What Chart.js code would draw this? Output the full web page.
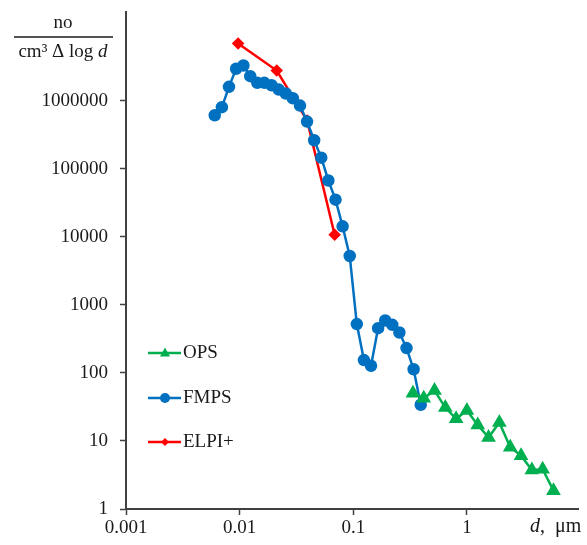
<!DOCTYPE html>
<html>
<head>
<meta charset="utf-8">
<script src="https://cdn.jsdelivr.net/npm/chart.js@4.4.0/dist/chart.umd.min.js"></script>
<style>
  html, body { margin: 0; padding: 0; background: #fff; }
  #wrap { width: 587px; height: 545px; }
</style>
</head>
<body>
<div id="wrap"><canvas id="chart" width="587" height="545"></canvas></div>
<script>
'use strict';

// particle diameter, um
const fmpsD = [0.00604, 0.00698, 0.00806, 0.00931, 0.0108, 0.0124, 0.0143, 0.0165, 0.0191, 0.0221,
  0.0255, 0.0294, 0.034, 0.0392, 0.0453, 0.0523, 0.0604, 0.0698, 0.0806, 0.0931,
  0.1075, 0.1241, 0.1433, 0.1655, 0.1911, 0.2207, 0.2548, 0.2943, 0.3398, 0.3924];
const fmpsN = [608000, 800000, 1590000, 2930000, 3270000, 2280000, 1820000, 1820000, 1680000, 1450000,
  1270000, 1080000, 844000, 491000, 261000, 145000, 67000, 35000, 14200, 5200,
  520, 154, 127, 454, 588, 508, 392, 231, 113, 34];

const elpiD = [0.0097, 0.0212, 0.0393, 0.0686];
const elpiN = [6890000, 2760000, 508000, 10700];

const opsD = [0.335, 0.417, 0.519, 0.646, 0.804, 1.001, 1.246, 1.552, 1.932, 2.406, 2.996, 3.73, 4.644, 5.782];
const opsN = [50.3, 42.4, 54.9, 30.9, 21.1, 27.9, 17.2, 11.2, 18.6, 8.08, 6.08, 3.75, 3.83, 1.86];

const xTicks = [0.001, 0.01, 0.1, 1];
const yTicks = [1, 10, 100, 1000, 10000, 100000, 1000000];

const BLUE = '#0070C0';
const RED = '#FF0000';
const GREEN = '#00B050';
const AXIS = '#404040';
const FONT = '"Liberation Serif", "DejaVu Serif", serif';

const toPoints = (xs, ys) => xs.map((x, i) => ({ x, y: ys[i] }));

function drawMarker(ctx, style, x, y, r) {
  ctx.beginPath();
  if (style === 'circle') {
    ctx.arc(x, y, r, 0, Math.PI * 2);
  } else if (style === 'rectRot') {
    ctx.moveTo(x, y - r); ctx.lineTo(x + r, y); ctx.lineTo(x, y + r); ctx.lineTo(x - r, y);
    ctx.closePath();
  } else {
    ctx.moveTo(x, y - r * 1.1); ctx.lineTo(x + r, y + r * 0.7); ctx.lineTo(x - r, y + r * 0.7);
    ctx.closePath();
  }
  ctx.fill();
}

// fraction title, custom legend and x label drawn on canvas
const decorations = {
  id: 'decorations',
  afterDraw(chart) {
    const ctx = chart.ctx;
    ctx.save();
    ctx.fillStyle = '#1a1a1a';
    ctx.textBaseline = 'middle';

    // y axis title: no / (cm3 Δ log d)
    ctx.font = '19px ' + FONT;
    ctx.textAlign = 'center';
    ctx.fillText('no', 63, 23);
    ctx.strokeStyle = '#1a1a1a';
    ctx.lineWidth = 1.5;
    ctx.beginPath(); ctx.moveTo(14, 37); ctx.lineTo(113, 37); ctx.stroke();

    const partA = 'cm\u00B3 \u0394 log ';
    ctx.font = '19px ' + FONT;
    const wA = ctx.measureText(partA).width;
    ctx.font = 'italic 19px ' + FONT;
    const wB = ctx.measureText('d').width;
    let sx = 63 - (wA + wB) / 2;
    ctx.textAlign = 'left';
    ctx.font = '19px ' + FONT;
    ctx.fillText(partA, sx, 52);
    ctx.font = 'italic 19px ' + FONT;
    ctx.fillText('d', sx + wA, 52);

    // x axis label at right end
    ctx.font = 'italic 20px ' + FONT;
    ctx.fillText('d', 530, 527);
    const wd = ctx.measureText('d').width;
    ctx.font = '20px ' + FONT;
    ctx.fillText(',  \u03BCm', 530 + wd, 527);

    // legend
    const items = [
      { label: 'OPS', color: GREEN, style: 'triangle', r: 5, y: 353 },
      { label: 'FMPS', color: BLUE, style: 'circle', r: 5, y: 398 },
      { label: 'ELPI+', color: RED, style: 'rectRot', r: 4, y: 442 },
    ];
    items.forEach(it => {
      ctx.strokeStyle = it.color;
      ctx.lineWidth = 2.5;
      ctx.beginPath(); ctx.moveTo(148, it.y); ctx.lineTo(181, it.y); ctx.stroke();
      ctx.fillStyle = it.color;
      drawMarker(ctx, it.style, 165, it.y, it.r);
      ctx.fillStyle = '#1a1a1a';
      ctx.font = '19px ' + FONT;
      ctx.textAlign = 'left';
      ctx.fillText(it.label, 183, it.y);
    });
    ctx.restore();
  }
};

new Chart(document.getElementById('chart'), {
  type: 'line',
  data: {
    datasets: [
      {
        label: 'OPS',
        data: toPoints(opsD, opsN),
        borderColor: GREEN,
        backgroundColor: GREEN,
        pointStyle: 'triangle',
        pointRadius: 6,
        borderWidth: 2.5,
      },
      {
        label: 'FMPS',
        data: toPoints(fmpsD, fmpsN),
        borderColor: BLUE,
        backgroundColor: BLUE,
        pointStyle: 'circle',
        pointRadius: 5,
        borderWidth: 2.5,
      },
      {
        label: 'ELPI+',
        data: toPoints(elpiD, elpiN),
        borderColor: RED,
        backgroundColor: RED,
        pointStyle: 'rectRot',
        pointRadius: 4.5,
        borderWidth: 2.5,
      },
    ]
  },
  options: {
    responsive: false,
    animation: false,
    layout: { padding: { left: 0, right: 7, top: 12, bottom: 0 } },
    elements: { line: { tension: 0 }, point: { borderWidth: 0 } },
    plugins: { legend: { display: false }, tooltip: { enabled: false } },
    scales: {
      x: {
        type: 'logarithmic',
        min: 0.001,
        max: 9.6,
        afterBuildTicks: s => { s.ticks = xTicks.map(v => ({ value: v })); },
        afterFit: s => { s.height = 36; s.paddingLeft = 0; s.paddingRight = 0; },
        border: { color: AXIS, width: 2 },
        grid: { drawOnChartArea: false, drawTicks: true, tickLength: 6, tickColor: AXIS, tickWidth: 1.5 },
        ticks: {
          color: '#1a1a1a',
          font: { family: FONT, size: 19 },
          padding: 2,
          maxRotation: 0,
          callback: v => String(v),
        },
      },
      y: {
        type: 'logarithmic',
        min: 1,
        max: 2e7,
        afterBuildTicks: s => { s.ticks = yTicks.map(v => ({ value: v })); },
        afterFit: s => { s.width = 126; s.paddingTop = 0; s.paddingBottom = 0; },
        border: { color: AXIS, width: 2 },
        grid: { drawOnChartArea: false, drawTicks: true, tickLength: 6, tickColor: AXIS, tickWidth: 1.5 },
        ticks: {
          color: '#1a1a1a',
          font: { family: FONT, size: 19 },
          padding: 12,
          callback: v => String(v),
        },
      },
    }
  },
  plugins: [decorations]
});
</script>
</body>
</html>
